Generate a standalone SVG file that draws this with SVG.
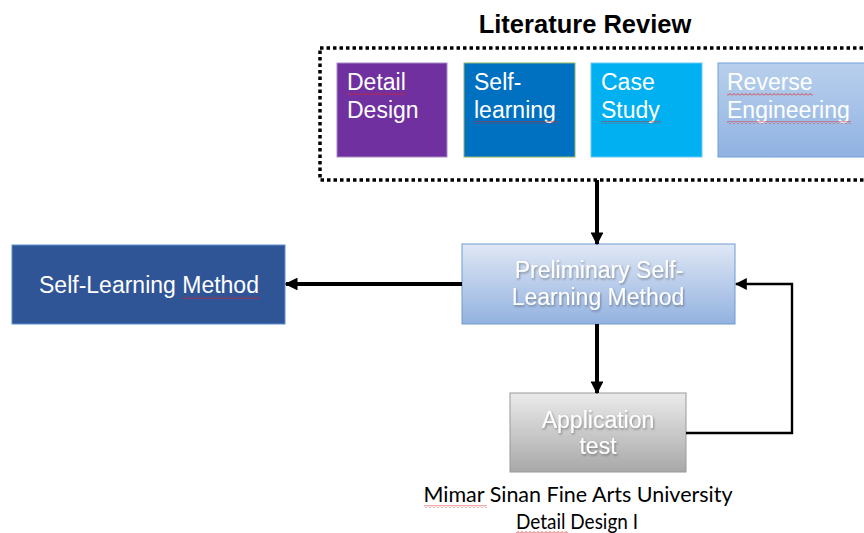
<svg xmlns="http://www.w3.org/2000/svg" width="864" height="533" viewBox="0 0 864 533">
<defs>
<linearGradient id="gBlue" x1="0" y1="0" x2="0" y2="1"><stop offset="0" stop-color="#dfe7f5"/><stop offset="1" stop-color="#93b2e0"/></linearGradient>
<linearGradient id="gRev" x1="0" y1="0" x2="0" y2="1"><stop offset="0" stop-color="#b9d0ec"/><stop offset="1" stop-color="#90b2e2"/></linearGradient>
<linearGradient id="gGray" x1="0" y1="0" x2="0" y2="1"><stop offset="0" stop-color="#ebebeb"/><stop offset="1" stop-color="#a8a8a8"/></linearGradient>
<filter id="sh" x="-10%" y="-20%" width="120%" height="150%"><feDropShadow dx="1" dy="1.5" stdDeviation="1" flood-color="#000" flood-opacity="0.35"/></filter>
<marker id="ah" viewBox="0 0 10 10" refX="9" refY="5" markerWidth="3.2" markerHeight="3.2" orient="auto" markerUnits="strokeWidth"><path d="M0,0 L10,5 L0,10 z" fill="#000"/></marker>
<marker id="ahs" viewBox="0 0 10 10" refX="9" refY="5" markerWidth="5" markerHeight="5" orient="auto" markerUnits="strokeWidth"><path d="M0,0 L10,5 L0,10 z" fill="#000"/></marker>
<pattern id="squig" patternUnits="userSpaceOnUse" width="4" height="3"><path d="M0 2.5 L2 0.5 L4 2.5" stroke="#e02020" stroke-width="0.8" fill="none"/></pattern>
</defs>
<style>
.bt{font-family:"Liberation Sans",Arial,sans-serif;font-size:23px;fill:#fff}
.ct{font-family:"Liberation Sans",Arial,sans-serif;font-size:23px;fill:#fff;text-anchor:middle}
.cap{font-family:Lato,"Open Sans",sans-serif;font-size:21px;fill:#000;text-anchor:middle}
.sq{fill:url(#squig)}
.ln{stroke:#000;fill:none}
</style>
<text x="585" y="33" font-family="'Liberation Sans',Arial,sans-serif" font-size="25.5" font-weight="bold" text-anchor="middle" fill="#000">Literature Review</text>
<g id="literature-review">
<rect x="320" y="48" width="560" height="132" fill="none" stroke="#000" stroke-width="3.5" stroke-dasharray="3.5 3"/>
</g>
<g id="detail-design">
<rect x="337" y="63" width="110" height="94" fill="#7030A0" stroke="#a68bc6" stroke-width="1"/>
<text class="bt" x="347" y="90">Detail</text>
<text class="bt" x="347" y="118">Design</text>
<rect class="sq" x="347" y="92" width="59" height="3"/>
</g>
<g id="self-learning">
<rect x="464" y="63" width="111" height="94" fill="#0070C0" stroke="#8fb56a" stroke-width="1"/>
<text class="bt" x="474" y="90">Self-</text>
<text class="bt" x="474" y="118">learning</text>
<rect class="sq" x="474" y="121" width="84" height="3"/>
</g>
<g id="case-study">
<rect x="591" y="63" width="111" height="94" fill="#00B0F0" stroke="#66ccf4" stroke-width="1"/>
<text class="bt" x="601" y="90">Case</text>
<text class="bt" x="601" y="118">Study</text>
<rect class="sq" x="601" y="121" width="60" height="3"/>
</g>
<g id="reverse-engineering">
<rect x="718" y="63" width="150" height="94" fill="url(#gRev)" stroke="#6f9fd8" stroke-width="1"/>
<text class="bt" x="727" y="90" fill="#f3f7fc">Reverse</text>
<text class="bt" x="727" y="118" fill="#f3f7fc">Engineering</text>
<rect class="sq" x="727" y="93" width="86" height="3"/>
<rect class="sq" x="727" y="121" width="124" height="3"/>
</g>
<g id="preliminary">
<rect x="462" y="244" width="273" height="80" fill="url(#gBlue)" stroke="#6e9bd1" stroke-width="1"/>
<g filter="url(#sh)">
<text class="ct" x="599" y="278">Preliminary Self-</text>
<text class="ct" x="598" y="305">Learning Method</text>
</g>
</g>
<g id="self-learning-method">
<rect x="12" y="245" width="273" height="79" fill="#2F5597" stroke="#5b8fd0" stroke-width="1"/>
<text class="ct" x="149" y="293">Self-Learning Method</text>
<rect class="sq" x="182" y="296" width="78" height="3"/>
</g>
<g id="application-test">
<rect x="510" y="393" width="176" height="79" fill="url(#gGray)" stroke="#9a9a9a" stroke-width="1"/>
<g filter="url(#sh)">
<text class="ct" x="598" y="428">Application</text>
<text class="ct" x="598" y="454">test</text>
</g>
</g>
<g id="caption">
<text class="cap" x="578" y="502" textLength="309" lengthAdjust="spacingAndGlyphs">Mimar Sinan Fine Arts University</text>
<text class="cap" x="577" y="529" textLength="122" lengthAdjust="spacingAndGlyphs">Detail Design I</text>
<rect class="sq" x="424" y="505" width="63" height="3"/>
<rect class="sq" x="516" y="531" width="52" height="2"/>
</g>
<g id="connectors">
<line class="ln" x1="597" y1="180" x2="597" y2="244" stroke-width="4" marker-end="url(#ah)"/>
<line class="ln" x1="462" y1="284" x2="286" y2="284" stroke-width="4" marker-end="url(#ah)"/>
<line class="ln" x1="597" y1="324" x2="597" y2="393" stroke-width="4" marker-end="url(#ah)"/>
<polyline class="ln" points="686,433 792,433 792,284 736,284" stroke-width="2.4" marker-end="url(#ahs)"/>
</g>
</svg>
